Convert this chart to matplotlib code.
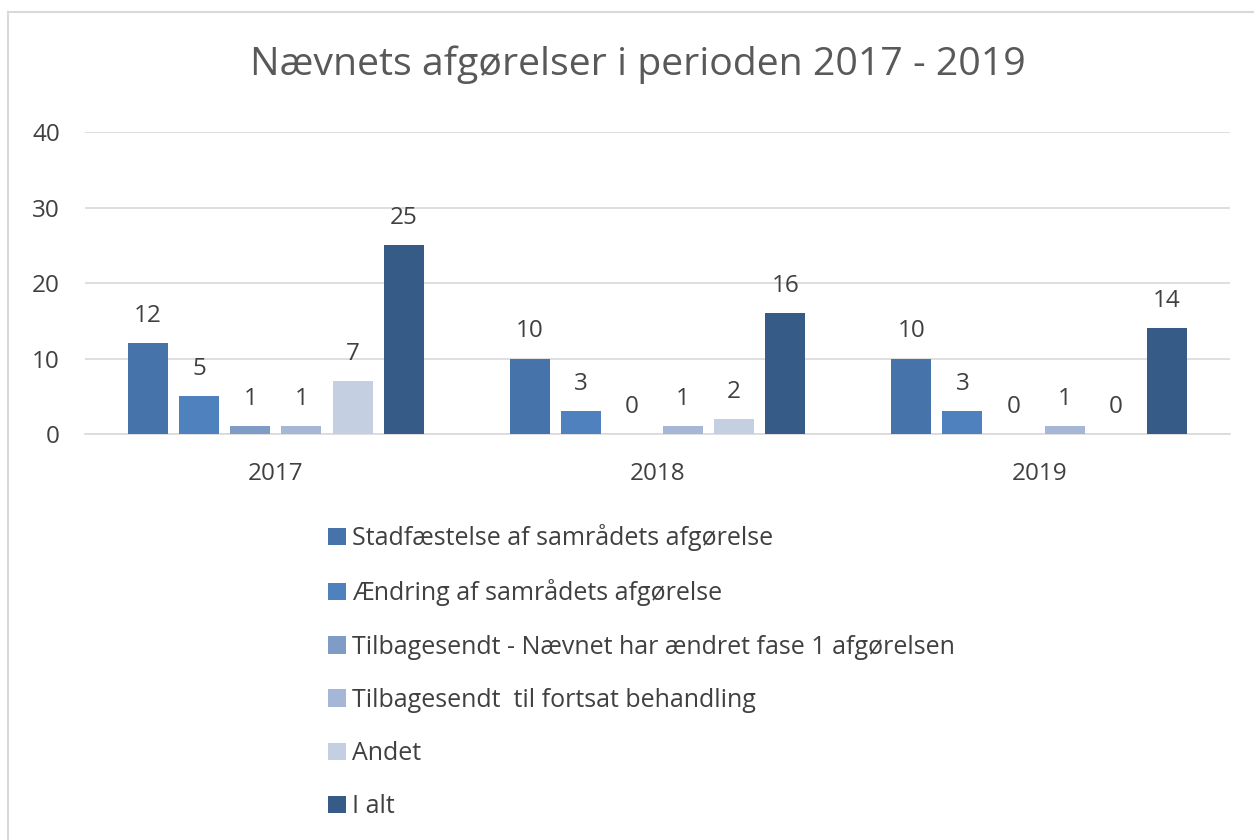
import numpy as np
import matplotlib.pyplot as plt
from matplotlib.lines import Line2D

plt.rcParams['font.family'] = ['Open Sans', 'DejaVu Sans']

years = ['2017', '2018', '2019']
series = ['Stadfæstelse af samrådets afgørelse',
          'Ændring af samrådets afgørelse',
          'Tilbagesendt - Nævnet har ændret fase 1 afgørelsen',
          'Tilbagesendt  til fortsat behandling',
          'Andet',
          'I alt']
stadfaestelse = [12, 10, 10]
aendring = [5, 3, 3]
tilbage_fase1 = [1, 0, 0]
tilbage_fortsat = [1, 1, 1]
andet = [7, 2, 0]
i_alt = [25, 16, 14]
values = [stadfaestelse, aendring, tilbage_fase1, tilbage_fortsat, andet, i_alt]
colors = ['#4674AA', '#4E81BD', '#7F9CC6', '#A5B6D6', '#C4CFE2', '#355B86']

fig = plt.figure(figsize=(12.54, 8.4), dpi=100)
ax = fig.add_axes([85 / 1254, 1 - 434 / 840, (1230 - 85) / 1254, (434 - 132) / 840])

x = np.arange(len(years))
step = 0.134
width = 0.105
text_col = '#404040'
for i, (name, vals, col) in enumerate(zip(series, values, colors)):
    pos = x + (i - 2.5) * step
    ax.bar(pos, vals, width=width, color=col, label=name, zorder=3)
    for p, v in zip(pos, vals):
        ax.text(p, v + 2.0, str(v), ha='center', va='bottom',
                fontsize=17.5, color=text_col)

ax.set_xlim(-0.5, 2.5)
ax.set_ylim(0, 40)
ax.set_yticks([0, 10, 20, 30, 40])
ax.set_xticks(x)
ax.set_xticklabels(years)
ax.grid(axis='y', color='#D9D9D9', linewidth=1.2, zorder=0)
for s in ['top', 'right', 'left']:
    ax.spines[s].set_visible(False)
ax.spines['bottom'].set_color('#D9D9D9')
ax.spines['bottom'].set_linewidth(1.2)
ax.tick_params(axis='both', length=0, labelsize=17.5, labelcolor=text_col)
ax.tick_params(axis='x', pad=20)
ax.tick_params(axis='y', pad=18)

fig.text(638 / 1254, 1 - 65 / 840, 'Nævnets afgørelser i perioden 2017 - 2019',
         ha='center', va='center', fontsize=28.3, color='#595959')

handles, labels = ax.get_legend_handles_labels()
leg = fig.legend(handles, labels, loc='upper left',
                 bbox_to_anchor=(318 / 1254, 1 - 514 / 840),
                 frameon=False, fontsize=18, ncol=1,
                 handlelength=0.7, handleheight=0.7, handletextpad=0.25,
                 labelspacing=1.13, borderaxespad=0)
for t in leg.get_texts():
    t.set_color(text_col)

# chart frame (top and left edges visible)
fig.add_artist(Line2D([8 / 1254, 8 / 1254], [0, 1 - 12 / 840],
                      color='#D9D9D9', linewidth=1.5, transform=fig.transFigure))
fig.add_artist(Line2D([8 / 1254, 1], [1 - 12 / 840, 1 - 12 / 840],
                      color='#D9D9D9', linewidth=1.5, transform=fig.transFigure))

fig.savefig('out.png', dpi=100, facecolor='white')
